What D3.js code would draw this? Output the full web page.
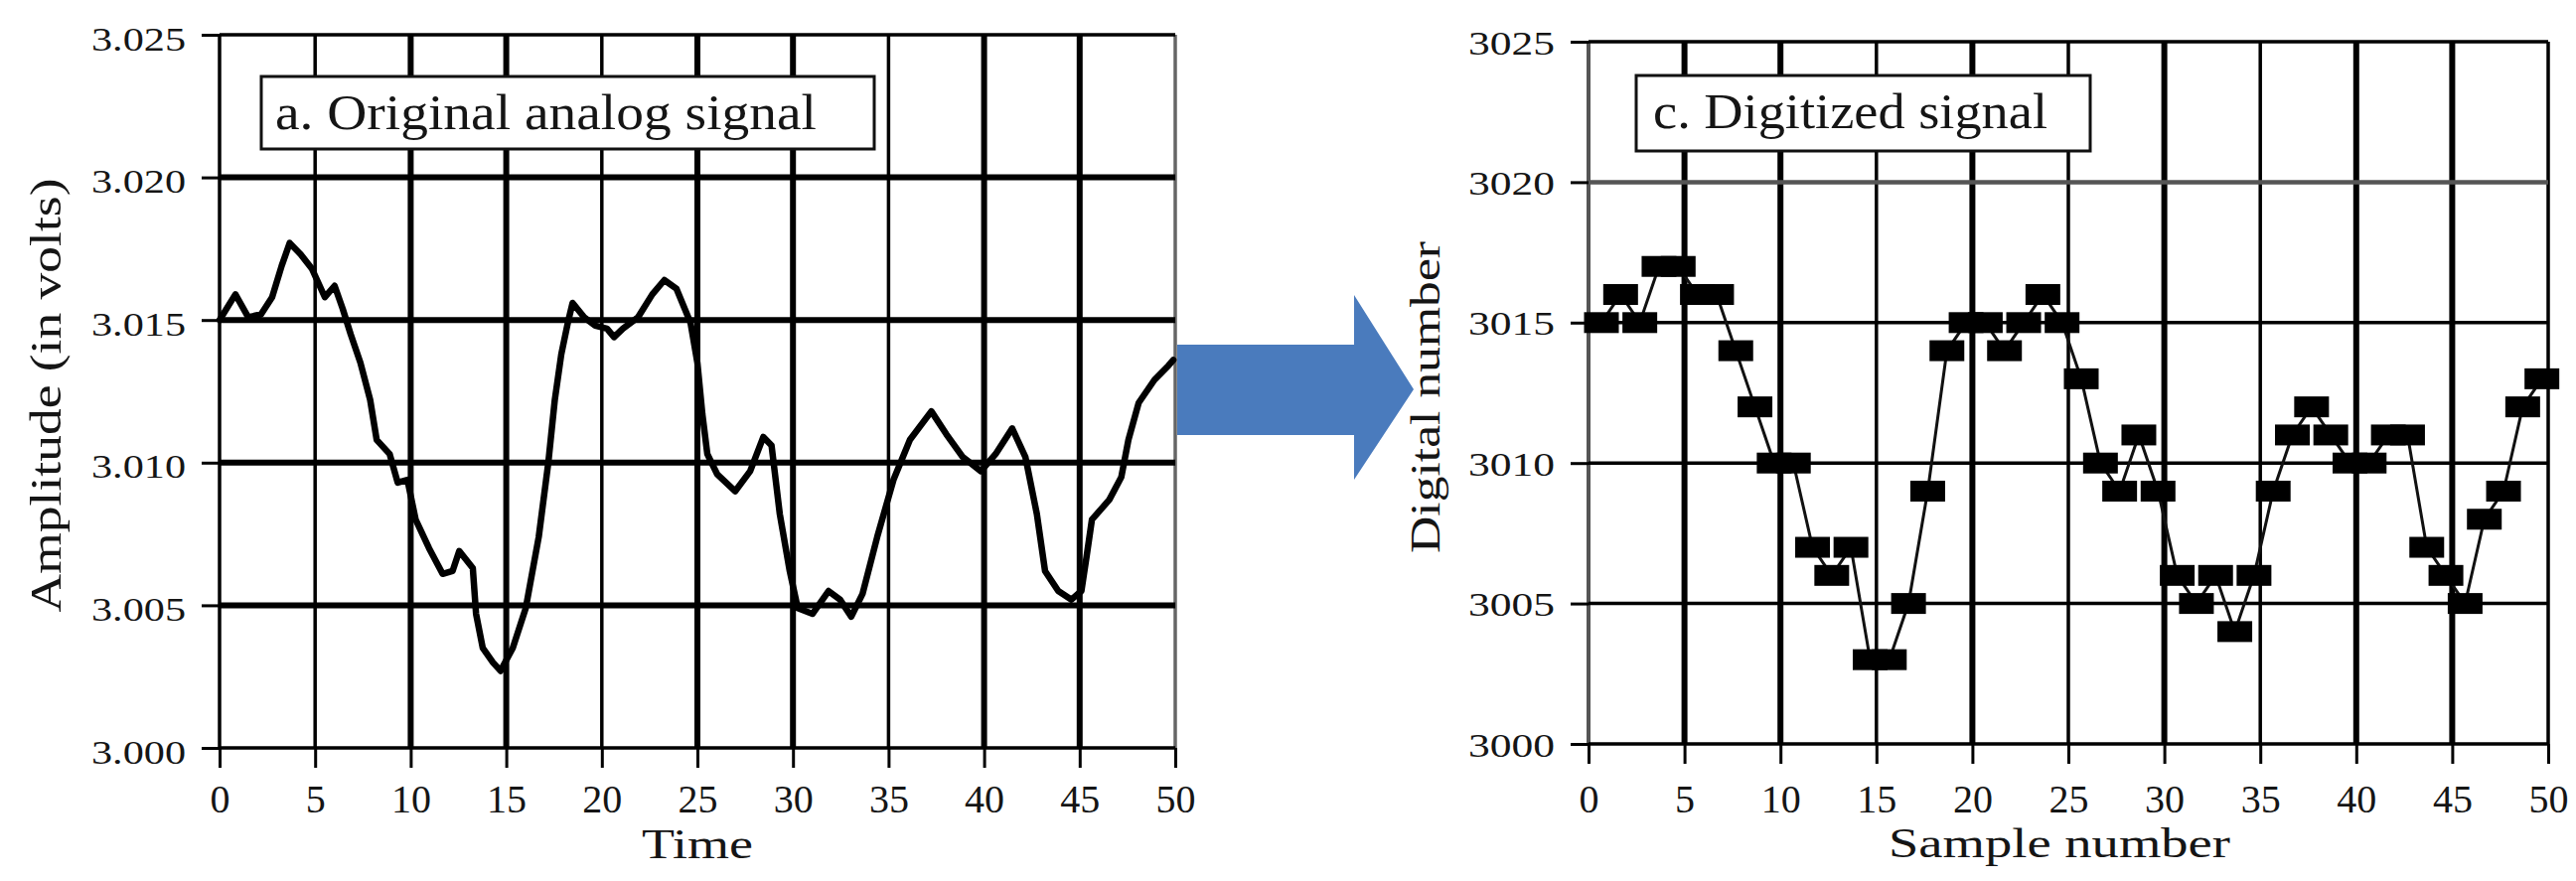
<!DOCTYPE html>
<html>
<head>
<meta charset="utf-8">
<script src="https://cdn.jsdelivr.net/npm/d3@7"></script>
<style>
  html, body { margin: 0; padding: 0; background: #fff; }
  svg { display: block; }
  text { font-family: "Liberation Serif", "Times New Roman", serif; fill: #151515; }
</style>
</head>
<body>
<script>
// ---------------- DATA ----------------
// a. Original analog signal (time, amplitude in volts)
const analogTime = [0, 0.83, 1.5, 2.17, 2.75, 3.25, 3.67, 4.25, 4.83, 5.51, 6.02, 6.44, 6.86, 7.37, 7.88, 8.22, 8.9, 9.32, 9.83,
  10.26, 10.96, 11.67, 12.19, 12.54, 13.25, 13.42, 13.77, 14.3, 14.7, 15.34, 16.02, 16.7, 17.2, 17.54, 17.88, 18.22, 18.47,
  19.07, 19.66, 20.27, 20.64, 21.1, 21.9, 22.64, 23.27, 23.9, 24.64, 25.0, 25.26, 25.52, 26.03, 26.98, 27.76, 28.45, 28.88,
  29.31, 29.83, 30.25, 31.02, 31.86, 32.46, 33.05, 33.64, 34.41, 35.26, 36.12, 37.24, 38.02, 38.88, 39.83, 40.6, 41.47,
  42.16, 42.76, 43.19, 43.88, 44.57, 45.09, 45.36, 45.64, 46.55, 47.18, 47.55, 48.09, 48.91, 49.64, 49.9];
const analogVolts = [3.0150, 3.0159, 3.0151, 3.0152, 3.0158, 3.0169, 3.0177, 3.0173, 3.0168, 3.0158, 3.0162, 3.0154, 3.0145,
  3.0135, 3.0122, 3.0108, 3.0103, 3.0093, 3.0094, 3.0080, 3.0070, 3.0061, 3.0062, 3.0069, 3.0063, 3.0047, 3.0035, 3.0030,
  3.0027, 3.0035, 3.0049, 3.0074, 3.0100, 3.0122, 3.0138, 3.0149, 3.0156, 3.0151, 3.0148, 3.0147, 3.0144, 3.0147, 3.0151,
  3.0159, 3.0164, 3.0161, 3.0149, 3.0135, 3.0117, 3.0103, 3.0096, 3.0090, 3.0097, 3.0109, 3.0106, 3.0082, 3.0062, 3.0049,
  3.0047, 3.0055, 3.0052, 3.0046, 3.0054, 3.0074, 3.0094, 3.0108, 3.0118, 3.0110, 3.0102, 3.0097, 3.0103, 3.0112, 3.0102,
  3.0082, 3.0062, 3.0055, 3.0052, 3.0055, 3.0067, 3.0080, 3.0087, 3.0095, 3.0108, 3.0121, 3.0129, 3.0134, 3.0136];

// c. Digitized signal: digital number for sample 0, 1, 2, ...
const digitalValues = [3015, 3016, 3015, 3017, 3017, 3016, 3016, 3014, 3012, 3010,
  3010, 3007, 3006, 3007, 3003, 3003, 3005, 3009, 3014, 3015,
  3015, 3014, 3015, 3016, 3015, 3013, 3010, 3009, 3011, 3009,
  3006, 3005, 3006, 3004, 3006, 3009, 3011, 3012, 3011, 3010,
  3010, 3011, 3011, 3007, 3006, 3005, 3008, 3009, 3012, 3013];

// tick values / labels
const timeTicks = [0, 5, 10, 15, 20, 25, 30, 35, 40, 45, 50];
const ampTicks = [3.000, 3.005, 3.010, 3.015, 3.020, 3.025];
const digTicks = [3000, 3005, 3010, 3015, 3020, 3025];
const titleA = "a. Original analog signal";
const titleC = "c. Digitized signal";
const xLabelA = "Time";
const yLabelA = "Amplitude (in volts)";
const xLabelC = "Sample number";
const yLabelC = "Digital number";

// ---------------- LAYOUT ----------------
const W = 2593, H = 887;
const svg = d3.select("body").append("svg").attr("width", W).attr("height", H);
svg.append("rect").attr("width", W).attr("height", H).attr("fill", "#fff");

const xL = d3.scaleLinear().domain([0, 50]).range([221, 1183]);
const yL = d3.scaleLinear().domain([3.000, 3.025]).range([753, 35]);
const xR = d3.scaleLinear().domain([0, 50]).range([1599, 2565]);
const yR = d3.scaleLinear().domain([3000, 3025]).range([749, 42]);

// line-weight styling of the grid (as in the scanned figure)
const heavyVL = new Set([10, 15, 25, 30, 40, 45]);
const heavyVR = new Set([5, 10, 20, 30, 40, 45]);

function drawGrid(g, x, y, xt, yt, vStyle, hStyle) {
  g.selectAll("line.v").data(xt).join("line").attr("class", "v")
    .attr("x1", d => x(d)).attr("x2", d => x(d))
    .attr("y1", y.range()[1]).attr("y2", y.range()[0])
    .attr("stroke", d => vStyle(d).c).attr("stroke-width", d => vStyle(d).w);
  g.selectAll("line.h").data(yt).join("line").attr("class", "h")
    .attr("x1", x.range()[0]).attr("x2", x.range()[1])
    .attr("y1", d => y(d)).attr("y2", d => y(d))
    .attr("stroke", d => hStyle(d).c).attr("stroke-width", d => hStyle(d).w);
}

const gL = svg.append("g");
drawGrid(gL, xL, yL, timeTicks, ampTicks,
  d => d === 50 ? {c: "#666", w: 3.5} : {c: "#000", w: heavyVL.has(d) ? 6 : 3.5},
  d => (d === 3.000 || d === 3.025) ? {c: "#000", w: 3.5} : {c: "#000", w: 6});

const gR = svg.append("g");
drawGrid(gR, xR, yR, timeTicks, digTicks,
  d => d === 0 ? {c: "#555", w: 4} : {c: "#000", w: heavyVR.has(d) ? 6 : 3.5},
  d => d === 3020 ? {c: "#555", w: 4.5} : {c: "#000", w: 3.5});

// ---------------- AXES ----------------
function styleAxis(g, fs) {
  g.select(".domain").remove();
  g.selectAll(".tick line").attr("stroke", "#000").attr("stroke-width", 3);
  g.selectAll(".tick text").attr("font-size", fs).style("font-family", '"Liberation Serif", serif').attr("fill", "#151515");
}

// left chart y axis
const ayL = svg.append("g").attr("transform", `translate(${xL(0)},0)`)
  .call(d3.axisLeft(yL).tickValues(ampTicks).tickFormat(d3.format(".3f")).tickSize(18).tickPadding(16));
styleAxis(ayL, 34);
ayL.selectAll(".tick text").attr("dy", 15).attr("textLength", 95).attr("lengthAdjust", "spacingAndGlyphs");

// left chart x axis
const axL = svg.append("g").attr("transform", `translate(0,${yL(3.000)})`)
  .call(d3.axisBottom(xL).tickValues(timeTicks).tickFormat(d3.format("d")).tickSize(20));
styleAxis(axL, 40);
axL.selectAll(".tick text").attr("y", 65).attr("dy", 0);

// right chart y axis
const ayR = svg.append("g").attr("transform", `translate(${xR(0)},0)`)
  .call(d3.axisLeft(yR).tickValues(digTicks).tickFormat(d3.format("d")).tickSize(18).tickPadding(16));
styleAxis(ayR, 33);
ayR.selectAll(".tick text").attr("dy", 12).attr("textLength", 87).attr("lengthAdjust", "spacingAndGlyphs");

// right chart x axis
const axR = svg.append("g").attr("transform", `translate(0,${yR(3000)})`)
  .call(d3.axisBottom(xR).tickValues(timeTicks).tickFormat(d3.format("d")).tickSize(20));
styleAxis(axR, 40);
axR.selectAll(".tick text").attr("y", 69).attr("dy", 0);

// axis titles
svg.append("text").attr("x", (xL(0) + xL(50)) / 2).attr("y", 864).attr("text-anchor", "middle")
  .attr("font-size", 42).attr("textLength", 112).attr("lengthAdjust", "spacingAndGlyphs").text(xLabelA);
svg.append("text").attr("transform", `translate(61,${(yL(3.000) + yL(3.025)) / 2 + 4}) rotate(-90)`)
  .attr("text-anchor", "middle").attr("font-size", 44).attr("textLength", 437).attr("lengthAdjust", "spacingAndGlyphs")
  .text(yLabelA);
svg.append("text").attr("x", 2073).attr("y", 863).attr("text-anchor", "middle")
  .attr("font-size", 42).attr("textLength", 344).attr("lengthAdjust", "spacingAndGlyphs").text(xLabelC);
svg.append("text").attr("transform", `translate(1449,400) rotate(-90)`)
  .attr("text-anchor", "middle").attr("font-size", 42).attr("textLength", 314).attr("lengthAdjust", "spacingAndGlyphs")
  .text(yLabelC);

// ---------------- TITLE BOXES ----------------
function titleBox(x0, y0, x1, y1, tx, ty, tl, label) {
  svg.append("rect").attr("x", x0).attr("y", y0).attr("width", x1 - x0).attr("height", y1 - y0)
    .attr("fill", "#fff").attr("stroke", "#111").attr("stroke-width", 3);
  svg.append("text").attr("x", tx).attr("y", ty).attr("font-size", 50)
    .attr("textLength", tl).attr("lengthAdjust", "spacingAndGlyphs").attr("fill", "#2a2a2a").text(label);
}
titleBox(263, 77, 880, 150, 277, 130, 545, titleA);
titleBox(1647, 76, 2104, 152, 1664, 129, 397, titleC);

// ---------------- DATA MARKS ----------------
const analog = analogTime.map((t, i) => ({t, v: analogVolts[i]}));
svg.append("path").datum(analog)
  .attr("d", d3.line().x(d => xL(d.t)).y(d => yL(d.v)))
  .attr("fill", "none").attr("stroke", "#000").attr("stroke-width", 6.5)
  .attr("stroke-linejoin", "round").attr("stroke-linecap", "round");

const markerDx = 13, mw = 35, mh = 21;
const digital = digitalValues.map((v, i) => ({i, v}));
svg.append("path").datum(digital)
  .attr("d", d3.line().x(d => xR(d.i) + markerDx).y(d => yR(d.v)))
  .attr("fill", "none").attr("stroke", "#111").attr("stroke-width", 3);
svg.append("g").selectAll("rect").data(digital).join("rect")
  .attr("x", d => xR(d.i) + markerDx - mw / 2).attr("y", d => yR(d.v) - mh / 2)
  .attr("width", mw).attr("height", mh).attr("fill", "#000");

// ---------------- ARROW ----------------
svg.append("path")
  .attr("d", "M1185,347 L1363,347 L1363,297 L1423,392 L1363,483 L1363,438 L1185,438 Z")
  .attr("fill", "#4a7bbd");
</script>
</body>
</html>
